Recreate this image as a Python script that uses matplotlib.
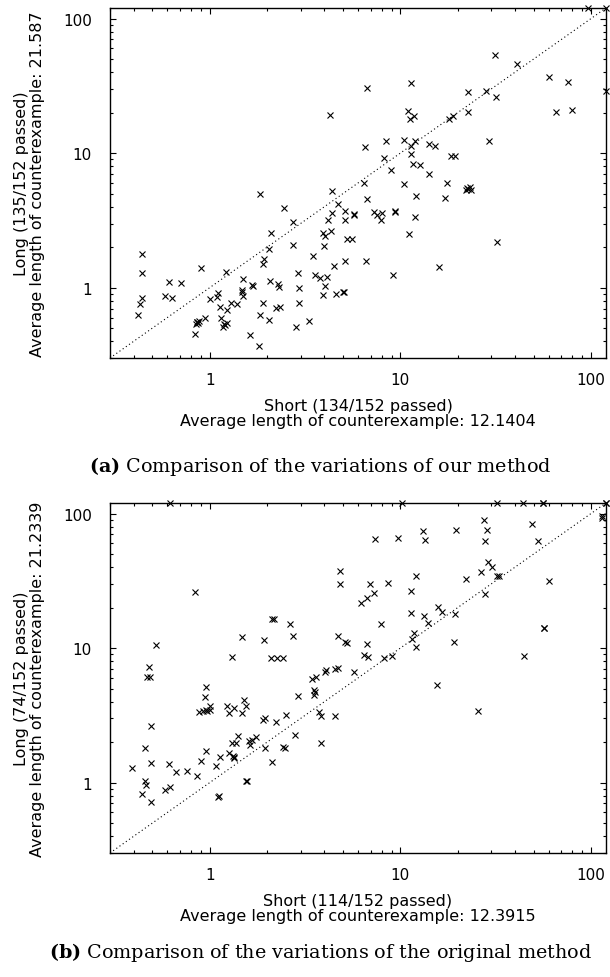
import numpy as np
import matplotlib
matplotlib.use('Agg')
import matplotlib.pyplot as plt
from matplotlib.ticker import LogLocator, FuncFormatter, NullFormatter

plt.rcParams['font.family'] = 'DejaVu Sans'
plt.rcParams['mathtext.fontset'] = 'dejavuserif'

# (a) our method: short vs long variation
short_a = [1.83, 2.09, 2.05, 1.92, 1.90, 0.444, 0.444, 0.90, 1.22, 0.61, 0.705, 1.50, 2.08,
           0.583, 0.632, 0.442, 0.431, 0.421, 1.11, 1.09, 1.0, 1.47, 1.48, 1.50, 1.67, 1.69,
           1.29, 1.39, 1.23, 1.13, 1.90, 0.95, 0.875, 0.859, 0.852, 0.834, 1.15, 1.19, 1.18,
           1.23, 1.83, 2.06, 1.62, 1.81, 0.87, 0.86, 1.2,
           11.4, 6.68, 4.26, 11.0, 11.2, 11.8, 6.55, 8.43, 10.5, 11.4, 12.0, 14.1, 15.2,
           8.2, 11.4, 11.7, 12.7, 8.96, 14.2, 6.49, 10.4, 4.38, 4.71, 6.70, 12.1, 2.45, 2.73,
           4.40, 5.16, 5.75, 5.69, 4.17, 5.16, 7.32, 7.53, 8.04, 7.94, 9.33, 9.40, 12.0,
           3.93, 4.05, 4.34, 2.73, 3.97, 5.25, 5.59, 11.1, 3.48, 2.90, 3.55, 3.80, 4.14,
           4.49, 5.16, 6.62, 9.14, 16.0, 2.28, 2.30, 2.96, 4.05, 3.93, 4.61, 5.0, 5.04,
           2.24, 2.34, 2.96, 2.85, 3.32,
           97, 120, 31.4, 41.0, 60.0, 75.8, 22.6, 28.2, 31.6, 120, 65.6, 79.3, 22.6, 18.0,
           19.0, 29.1, 18.5, 19.3, 17.5, 22.5, 22.8, 23.1, 23.5, 22.2, 17.2, 32.2]
long_a = [5.0, 2.53, 1.93, 1.63, 1.51, 1.77, 1.28, 1.39, 1.30, 1.10, 1.09, 1.17, 1.12,
          0.873, 0.834, 0.834, 0.753, 0.628, 0.908, 0.857, 0.824, 0.956, 0.923, 0.873, 1.05, 1.03,
          0.766, 0.757, 0.684, 0.719, 0.766, 0.593, 0.566, 0.553, 0.535, 0.456, 0.593, 0.535, 0.514,
          0.544, 0.628, 0.575, 0.446, 0.370, 0.55, 0.56, 0.53,
          33.2, 30.5, 19.3, 20.7, 18.0, 19.0, 11.1, 12.4, 12.6, 11.4, 12.4, 11.7, 11.3,
          9.18, 9.78, 8.29, 8.2, 7.53, 7.03, 6.03, 5.86, 5.26, 4.21, 4.59, 4.78, 3.91, 3.08,
          3.59, 3.72, 3.55, 3.49, 3.21, 3.21, 3.66, 3.49, 3.59, 3.17, 3.66, 3.72, 3.34,
          2.53, 2.43, 2.64, 2.07, 2.05, 2.31, 2.31, 2.50, 1.73, 1.28, 1.24, 1.19, 1.20,
          1.45, 1.57, 1.58, 1.24, 1.43, 1.06, 1.02, 1.0, 1.03, 0.888, 0.893, 0.923, 0.934,
          0.711, 0.714, 0.770, 0.514, 0.566,
          120, 120, 53.8, 45.9, 36.6, 33.9, 28.6, 29.0, 26.3, 28.8, 20.4, 20.9, 20.1, 18.0,
          19.0, 12.4, 9.5, 9.5, 6.03, 5.5, 5.4, 5.6, 5.3, 5.35, 4.64, 2.19]

# (b) original method: short vs long variation
short_b = [0.622, 0.834, 2.13, 2.17, 0.521, 1.48, 1.92, 1.31, 2.11, 2.25, 2.42, 0.481, 0.47, 0.485,
           0.96, 0.946, 0.879, 0.923, 0.953, 0.968, 1.0, 1.0, 1.24, 1.27, 1.34, 1.47, 1.51, 1.55,
           1.90, 1.96, 2.22, 0.495, 0.456, 0.495, 0.393, 0.46, 0.466, 0.444, 0.495, 0.581, 0.622,
           0.612, 0.669, 0.76, 0.861, 0.904, 0.96, 1.075, 1.14, 1.27, 1.32, 1.35, 1.34, 1.31, 1.38,
           1.41, 1.61, 1.67, 1.74, 1.62, 1.94, 2.13, 1.56, 1.57, 1.11, 1.12,
           10.2, 7.41, 9.71, 13.1, 13.5, 4.84, 4.84, 6.95, 8.6, 12.1, 11.4, 6.24, 6.70, 7.32,
           2.65, 2.73, 7.94, 11.4, 13.4, 13.9, 15.7, 16.6, 11.8, 11.5, 12.1, 4.74, 5.10, 5.24,
           6.70, 6.49, 6.81, 8.26, 9.03, 5.75, 3.45, 3.62, 4.01, 4.09, 4.52, 4.71, 3.52, 3.55, 3.52,
           2.90, 2.52, 3.74, 3.85, 4.52, 2.82, 2.44, 2.47, 3.85, 15.6,
           32.1, 43.9, 55.8, 56.1, 120, 120, 114, 115, 27.6, 28.5, 27.9, 19.5, 48.9, 52.8,
           29.0, 30.2, 26.5, 32.1, 33.1, 22.1, 60.5, 27.9, 19.4, 57.0, 56.8, 19.2, 44.8, 25.7]
long_b = [120, 26.0, 16.4, 16.5, 10.5, 12.0, 11.5, 8.53, 8.5, 8.5, 8.4, 7.19, 6.06, 6.1,
          5.11, 4.31, 3.36, 3.43, 3.47, 3.40, 3.49, 3.74, 3.70, 3.30, 3.59, 3.30, 4.14, 3.70,
          2.94, 3.03, 2.81, 2.63, 1.82, 1.39, 1.28, 1.03, 0.955, 0.82, 0.723, 0.877, 0.934,
          1.38, 1.20, 1.22, 1.12, 1.46, 1.72, 1.33, 1.56, 1.67, 1.58, 1.53, 1.55, 1.96, 1.96,
          2.24, 2.04, 2.09, 2.18, 1.89, 1.82, 1.42, 1.03, 1.02, 0.783, 0.79,
          120, 64.6, 66.4, 74.0, 63.5, 37.6, 30.0, 30.0, 30.6, 34.3, 26.6, 21.5, 23.5, 25.5,
          15.1, 12.3, 15.1, 18.4, 17.4, 15.5, 20.3, 18.7, 12.9, 11.7, 10.2, 12.3, 11.2, 10.9,
          10.7, 8.93, 8.58, 8.43, 8.77, 6.61, 5.89, 6.06, 6.61, 6.84, 6.99, 7.11, 4.91, 4.70, 4.51,
          4.39, 3.17, 3.34, 3.12, 3.15, 2.26, 1.85, 1.82, 1.96, 5.35,
          120, 120, 120, 120, 120, 120, 95.5, 93, 89.3, 76.1, 62.8, 76.1, 83.4, 62.4,
          43.9, 40.3, 37.0, 34.3, 34.3, 32.4, 31.7, 25.3, 18.0, 14.1, 14.0, 11.2, 8.77, 3.40]

lo, hi = 0.3, 120

fig = plt.figure(figsize=(6.1, 9.78), dpi=100)
ax1 = fig.add_axes([0.1803, 0.6329, 0.8131, 0.3579])
ax2 = fig.add_axes([0.1803, 0.1268, 0.8131, 0.3579])


def style(ax, xs, ys, xlab, ylab):
    ax.plot([lo, hi], [lo, hi], color='black', lw=0.8, dashes=(1, 2.5))
    ax.plot(xs, ys, 'x', color='black', ms=5, mew=0.8, clip_on=False)
    ax.set_xscale('log')
    ax.set_yscale('log')
    ax.set_xlim(lo, hi)
    ax.set_ylim(lo, hi)
    for axis in (ax.xaxis, ax.yaxis):
        axis.set_major_locator(LogLocator(base=10))
        axis.set_minor_locator(LogLocator(base=10, subs=np.arange(2, 10)))
        axis.set_major_formatter(FuncFormatter(lambda v, _: f'{v:g}'))
        axis.set_minor_formatter(NullFormatter())
    ax.tick_params(which='both', direction='in', top=True, right=True, width=0.8)
    ax.tick_params(which='major', length=4.5, labelsize=11)
    ax.tick_params(which='minor', length=2)
    ax.tick_params(axis='x', which='major', pad=10)
    ax.tick_params(axis='y', which='major', pad=13)
    for s in ax.spines.values():
        s.set_linewidth(1.0)
    ax.set_xlabel(xlab, fontsize=11.5, linespacing=0.95)
    ax.set_ylabel(ylab, fontsize=11.5, linespacing=1.1)
    ax.xaxis.set_label_coords(0.5, -0.115)
    ax.yaxis.set_label_coords(-0.131, 0.5)


style(ax1, short_a, long_a,
      'Short (134/152 passed)\nAverage length of counterexample: 12.1404',
      'Long (135/152 passed)\nAverage length of counterexample: 21.587')
style(ax2, short_b, long_b,
      'Short (114/152 passed)\nAverage length of counterexample: 12.3915',
      'Long (74/152 passed)\nAverage length of counterexample: 21.2339')

fig.text(320 / 610, 1 - 466 / 978, r'$\mathbf{(a)}$ Comparison of the variations of our method',
         family='DejaVu Serif', fontsize=13.8, ha='center', va='center')
fig.text(320 / 610, 1 - 953 / 978, r'$\mathbf{(b)}$ Comparison of the variations of the original method',
         family='DejaVu Serif', fontsize=13.8, ha='center', va='center')

fig.savefig('out.png', dpi=100)
